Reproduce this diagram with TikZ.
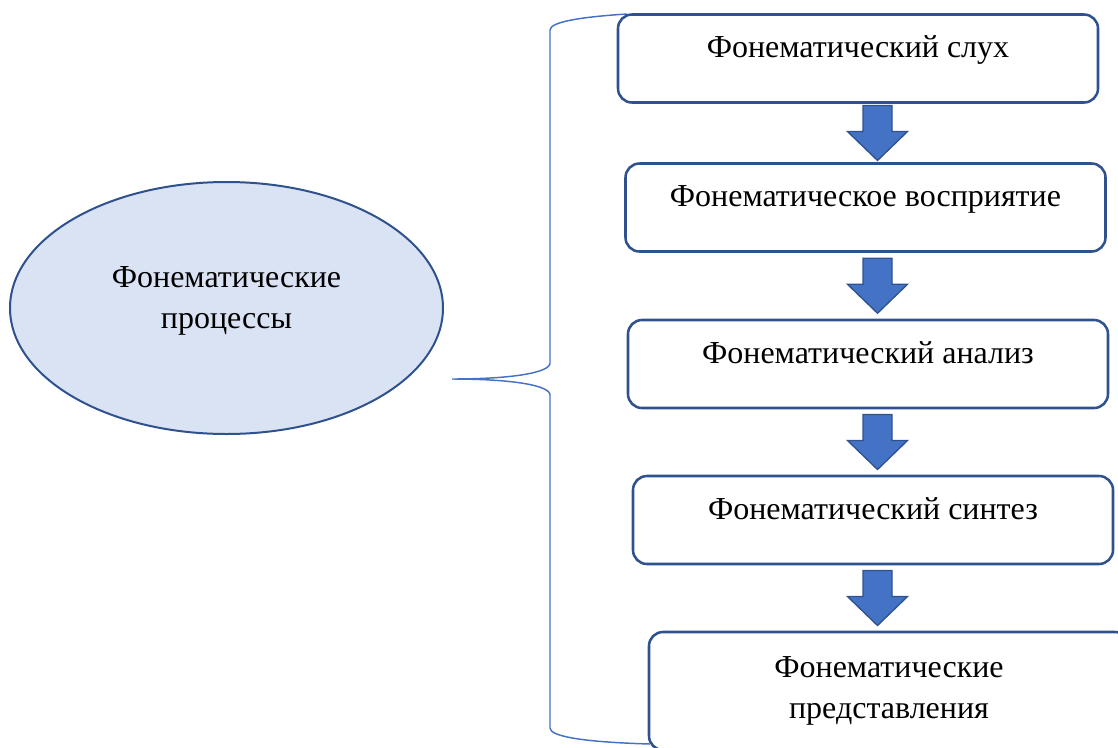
\documentclass[tikz,border=0pt]{standalone}
\usepackage{fontspec}
\setmainfont{Liberation Serif}
\usetikzlibrary{shapes,calc,positioning}
\definecolor{boxblue}{HTML}{2F528F}
\definecolor{arrowblue}{HTML}{4472C4}
\definecolor{ellfill}{HTML}{DAE3F3}
\newcommand{\diagfont}{\fontsize{24pt}{30.75pt}\selectfont}
\tikzset{
    semithick,
    stage/.style = {rectangle, draw=boxblue, line width=1.9pt, rounded corners=10.5pt,
                    fill=white, minimum width=360pt, minimum height=66pt, inner sep=0pt,
                    text height=32.25pt, text depth=33.75pt, font=\diagfont},
    proc/.style = {ellipse, draw=boxblue, line width=1.5pt, fill=ellfill,
                   minimum width=324.75pt, minimum height=189pt, inner sep=0pt},
    curly/.style = {draw=arrowblue, line width=1.1pt},
    dnarrow/.pic = {\draw[fill=arrowblue, draw=boxblue, line width=1pt]
        (-14.5,-27.5) -- (14.5,-27.5) -- (14.5,-1.5) -- (30,-1.5) -- (0,27.5)
        -- (-30,-1.5) -- (-14.5,-1.5) -- cycle;}
}

\begin{document}
\begin{tikzpicture}[x=0.75pt, y=-0.75pt]
  \useasboundingbox (0,0) rectangle (1118,747);
  \clip (0,0) rectangle (1118,747);

  \node (P) at (226.5,308) [proc,
        label={[align=center, font=\diagfont, yshift=5pt]center:Фонематические\\процессы}] {};

  % brace from the ellipse to the column of boxes
  \coordinate (tip) at (452,379);
  \coordinate (btop) at (627,14);
  \coordinate (bbot) at (650,744);
  \draw[curly] (btop) .. controls (580,17) and (550,22) .. (550,30) -- (550,363)
     .. controls (550,373) and (510,379) .. (tip)
     .. controls (510,379) and (550,385) .. (550,395) -- (550,728)
     .. controls (550,736) and (580,742) .. (bbot);

  \node (S1) at (858,58.5) [stage] {Фонематический слух};
  \node (S2) at (865.5,207.5) [stage] {Фонематическое восприятие};
  \node (S3) at (868,364) [stage] {Фонематический анализ};
  \node (S4) at (873,520) [stage] {Фонематический синтез};
  \node (S5) at (889,691) [stage, minimum height=88.5pt, text height=64.5pt,
                           text depth=24pt, align=center] {Фонематические\\представления};

  \coordinate (axis) at (877.5,0);
  \foreach \a/\b in {S1/S2,S2/S3,S3/S4,S4/S5} {
    \coordinate (m) at ($(\a.south)!.5!(\b.north)$);
    \pic at (axis |- m) {dnarrow};
  }
\end{tikzpicture}
\end{document}
